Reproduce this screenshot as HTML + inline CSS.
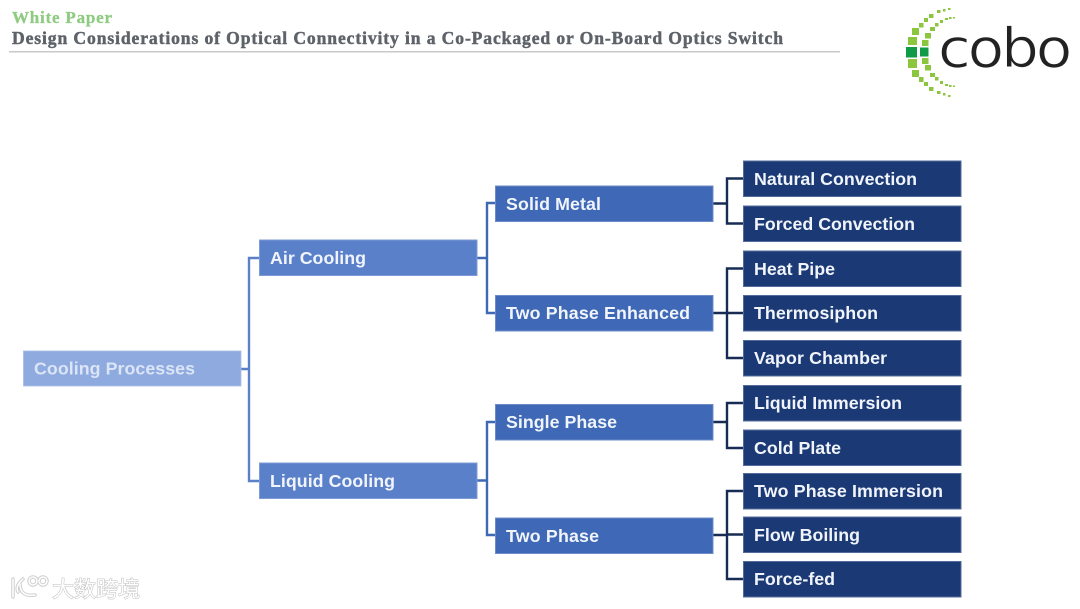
<!DOCTYPE html>
<html><head><meta charset="utf-8"><style>
html,body{margin:0;padding:0;background:#fff;width:1080px;height:609px;overflow:hidden}
svg{display:block;filter:blur(.35px)}
.t{font:bold 17.8px "Liberation Sans",sans-serif;fill:#f1f5fb}
.h{font-family:"Liberation Serif",serif;font-weight:bold}
rect.b{stroke-width:.8}
</style></head><body>
<svg width="1080" height="609" viewBox="0 0 1080 609" xmlns="http://www.w3.org/2000/svg">
<text class="h" x="12" y="23" font-size="17" fill="#8fcb82" stroke="#8fcb82" stroke-width=".3" textLength="100" lengthAdjust="spacing">White Paper</text>
<text class="h" x="12" y="44" font-size="17.600" fill="#5e6269" stroke="#5e6269" stroke-width=".45" textLength="771" lengthAdjust="spacing">Design Considerations of Optical Connectivity in a Co-Packaged or On-Board Optics Switch</text>
<rect x="9" y="51" width="831" height="1.5" fill="#c9c9c9"/>

<!-- logo -->
<g fill="#8cc63f">
<rect x="908" y="37" width="9" height="8"/><rect x="912" y="28" width="7" height="7"/><rect x="919" y="23" width="4.5" height="4.5"/><rect x="924" y="18" width="4" height="4"/><rect x="929" y="14" width="4.5" height="4"/><rect x="937" y="10" width="3.5" height="3"/><rect x="943" y="9" width="2.5" height="2.5"/><rect x="948" y="8" width="2.5" height="2"/>
<rect x="908" y="59" width="9" height="9"/><rect x="912" y="70" width="7" height="7"/><rect x="919" y="77" width="4.5" height="5"/><rect x="924" y="82" width="4" height="4"/><rect x="929" y="87" width="4.5" height="4"/><rect x="937" y="91" width="3.5" height="3"/><rect x="943" y="93" width="2.5" height="2.5"/><rect x="948" y="95" width="2.5" height="2"/>
<rect x="922" y="40" width="6.5" height="6"/><rect x="925" y="33" width="6" height="5.5"/><rect x="930" y="27" width="5" height="4"/><rect x="935" y="23" width="3.5" height="3.5"/><rect x="940" y="20" width="3" height="3"/><rect x="945" y="18" width="3" height="2"/><rect x="949" y="17" width="2.5" height="2"/><rect x="953" y="17" width="2" height="1.5"/>
<rect x="922" y="58" width="6.5" height="6"/><rect x="925" y="65" width="6" height="5.5"/><rect x="930" y="73" width="5" height="4"/><rect x="935" y="77" width="3.5" height="3.5"/><rect x="940" y="81" width="3" height="3"/><rect x="945" y="84" width="3" height="2"/><rect x="949" y="85" width="2.5" height="2"/><rect x="953" y="85.5" width="2" height="1.5"/>
</g>
<rect x="906" y="47" width="11" height="10.5" fill="#0f9b48"/><rect x="920" y="47.5" width="8.5" height="9" fill="#0f9b48"/>
<g transform="translate(938 67) scale(1.1 1)">
<text x="0" y="0" font-family="DejaVu Sans,sans-serif" font-size="54" fill="#222" stroke="#fff" stroke-width=".8" textLength="122" lengthAdjust="spacing">cobo</text>
</g>

<!-- connectors -->
<g fill="none" stroke-width="2.4">
<path stroke="#5a80c8" d="M241 369H249M259 258H249V481H259"/>
<path stroke="#3f69b5" d="M477 258H487M495 203H487V313H495M477 480.500H487M495 422H487V535H495"/>
<path stroke="#172b55" d="M713 203.500H727M743 178.500H727V223.500H743M713 313H743M743 268.500H727V358H743M713 422H727M743 403H727V448H743M713 535H727M743 491H727V579H743M727 534.500H743"/>
</g>

<!-- boxes -->
<rect class="b" x="23.500" y="351" width="217.500" height="35" fill="#8eaadf" stroke="#a7bde6"/>
<g fill="#5a80c9" stroke="#7d9bd6" class="b">
<rect x="259.500" y="240" width="217.500" height="35.500"/>
<rect x="259.500" y="463" width="217.500" height="35.500"/>
</g>
<g fill="#3f69b6" stroke="#6c8cc9" class="b">
<rect x="495.500" y="186" width="217.500" height="35.500"/>
<rect x="495.500" y="295.500" width="217.500" height="35.500"/>
<rect x="495.500" y="404.500" width="217.500" height="35.500"/>
<rect x="495.500" y="518" width="217.500" height="35.500"/>
</g>
<g fill="#1b3a75" stroke="#536c9c" class="b">
<rect x="743.500" y="161" width="217.500" height="35.500"/>
<rect x="743.500" y="206" width="217.500" height="35.500"/>
<rect x="743.500" y="251" width="217.500" height="35.500"/>
<rect x="743.500" y="295.500" width="217.500" height="35.500"/>
<rect x="743.500" y="340.500" width="217.500" height="35.500"/>
<rect x="743.500" y="385.500" width="217.500" height="35.500"/>
<rect x="743.500" y="430" width="217.500" height="35.500"/>
<rect x="743.500" y="473.500" width="217.500" height="35.500"/>
<rect x="743.500" y="517" width="217.500" height="35.500"/>
<rect x="743.500" y="561.500" width="217.500" height="35.500"/>
</g>

<!-- labels -->
<text class="t" x="34" y="374.500" style="fill:#dbe5f6" textLength="161" lengthAdjust="spacing">Cooling Processes</text>
<text class="t" x="270" y="264" textLength="96" lengthAdjust="spacing">Air Cooling</text>
<text class="t" x="270" y="487" textLength="125" lengthAdjust="spacing">Liquid Cooling</text>
<text class="t" x="506" y="210" textLength="95" lengthAdjust="spacing">Solid Metal</text>
<text class="t" x="506" y="319" textLength="184" lengthAdjust="spacing">Two Phase Enhanced</text>
<text class="t" x="506" y="428" textLength="111" lengthAdjust="spacing">Single Phase</text>
<text class="t" x="506" y="542" textLength="93" lengthAdjust="spacing">Two Phase</text>
<text class="t" x="754" y="185" textLength="163" lengthAdjust="spacing">Natural Convection</text>
<text class="t" x="754" y="230" textLength="161" lengthAdjust="spacing">Forced Convection</text>
<text class="t" x="754" y="275" textLength="81" lengthAdjust="spacing">Heat Pipe</text>
<text class="t" x="754" y="319" textLength="124" lengthAdjust="spacing">Thermosiphon</text>
<text class="t" x="754" y="364" textLength="133" lengthAdjust="spacing">Vapor Chamber</text>
<text class="t" x="754" y="409" textLength="148" lengthAdjust="spacing">Liquid Immersion</text>
<text class="t" x="754" y="454" textLength="87" lengthAdjust="spacing">Cold Plate</text>
<text class="t" x="754" y="497" textLength="189" lengthAdjust="spacing">Two Phase Immersion</text>
<text class="t" x="754" y="541" textLength="106" lengthAdjust="spacing">Flow Boiling</text>
<text class="t" x="754" y="585" textLength="81" lengthAdjust="spacing">Force-fed</text>

<!-- watermark -->
<g fill="none" stroke="#c4c4c4" stroke-width="3.500" opacity=".8" stroke-linecap="round">
<path d="M13 579V597M23 579Q15 586 18 592M20 584Q20 597 35 595"/>
<circle cx="33" cy="581" r="4"/><circle cx="43" cy="581" r="4"/>
</g>
<g fill="none" stroke="#fff" stroke-width="1.500" stroke-linecap="round">
<path d="M13 579V597M23 579Q15 586 18 592M20 584Q20 597 35 595"/>
<circle cx="33" cy="581" r="4"/><circle cx="43" cy="581" r="4"/>
</g>
<text x="52" y="597" font-family="'Liberation Sans','Noto Sans CJK SC',sans-serif" font-size="22" fill="#fff" stroke="#bdbdbd" stroke-width="1" paint-order="stroke">大数跨境</text>
</svg>
</body></html>
